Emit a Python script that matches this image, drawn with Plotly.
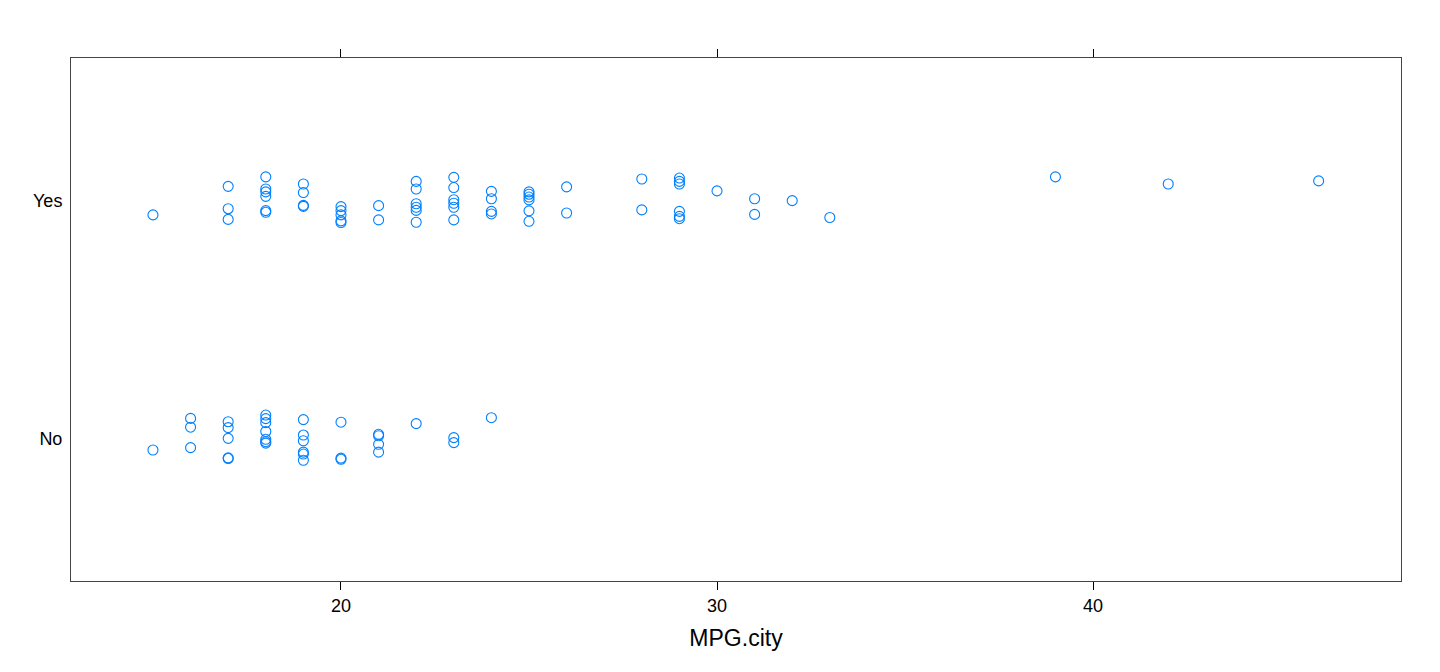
"""
Strip plot of city MPG by manual transmission availability (jittered).
"""

import plotly.graph_objects as go

# ── data ─────────────────────────────────────────────────────────────────────
levels = ["No", "Yes"]

mpg_yes = [15,
           17, 17, 17,
           18, 18, 18, 18, 18, 18,
           19, 19, 19, 19,
           20, 20, 20, 20, 20,
           21, 21,
           22, 22, 22, 22, 22, 22,
           23, 23, 23, 23, 23, 23,
           24, 24, 24, 24,
           25, 25, 25, 25, 25, 25,
           26, 26,
           28, 28,
           29, 29, 29, 29, 29, 29,
           30,
           31, 31,
           32,
           33,
           39,
           42,
           46]
jitter_yes = [-0.060,
              0.060, -0.034, -0.079,
              0.100, 0.049, 0.037, 0.018, -0.042, -0.049,
              0.070, 0.034, -0.020, -0.024,
              -0.025, -0.042, -0.060, -0.085, -0.092,
              -0.021, -0.081,
              0.081, 0.049, -0.013, -0.028, -0.041, -0.091,
              0.098, 0.055, 0.004, -0.011, -0.028, -0.081,
              0.039, 0.008, -0.045, -0.056,
              0.037, 0.027, 0.015, 0.003, -0.043, -0.087,
              0.058, -0.052,
              0.091, -0.039,
              0.095, 0.081, 0.070, -0.045, -0.066, -0.076,
              0.041,
              0.008, -0.058,
              0.000,
              -0.071,
              0.100,
              0.070,
              0.083]

mpg_no = [15,
          16, 16, 16,
          17, 17, 17, 17, 17,
          18, 18, 18, 18, 18, 18, 18,
          19, 19, 19, 19, 19, 19,
          20, 20, 20,
          21, 21, 21, 21,
          22,
          23, 23,
          24]
jitter_no = [-0.049,
             0.084, 0.047, -0.039,
             0.070, 0.045, 0.000, -0.082, -0.085,
             0.098, 0.083, 0.066, 0.029, -0.004, -0.014, -0.020,
             0.079, 0.014, -0.010, -0.058, -0.066, -0.092,
             0.068, -0.083, -0.088,
             0.017, 0.011, -0.025, -0.058,
             0.062,
             0.003, -0.018,
             0.087]

# ── figure ───────────────────────────────────────────────────────────────────
FONT = "Liberation Sans, Arial, sans-serif"
BLUE = "#0080FF"
FRAME = "#444444"

y_no = [1 + j for j in jitter_no]
y_yes = [2 + j for j in jitter_yes]

fig = go.Figure()
fig.add_trace(go.Scatter(
    x=mpg_no + mpg_yes,
    y=y_no + y_yes,
    mode="markers",
    marker=dict(symbol="circle-open", size=10, color=BLUE,
                line=dict(width=1.1, color=BLUE)),
    showlegend=False,
    hoverinfo="x",
))

# the page body adds an 8px offset, so margins are trimmed to compensate
fig.update_layout(
    width=1440, height=672,
    margin=dict(l=63, r=47, t=50, b=99),
    paper_bgcolor="white",
    plot_bgcolor="white",
    font=dict(family=FONT, size=18, color="black"),
    xaxis=dict(
        range=[12.82, 48.19],
        tickvals=[20, 30, 40],
        ticks="outside", ticklen=8, tickwidth=1, tickcolor="black",
        showline=True, linecolor=FRAME, linewidth=1, mirror="ticks",
        showgrid=False, zeroline=False,
        tickfont=dict(size=18),
        title=dict(text="MPG.city", font=dict(size=23), standoff=15),
    ),
    yaxis=dict(
        range=[0.4, 2.6],
        tickvals=[1, 2], ticktext=levels,
        ticks="", ticklabelstandoff=4,
        showline=True, linecolor=FRAME, linewidth=1, mirror=True,
        showgrid=False, zeroline=False,
        tickfont=dict(size=18),
    ),
)

fig.write_html("out.html")
